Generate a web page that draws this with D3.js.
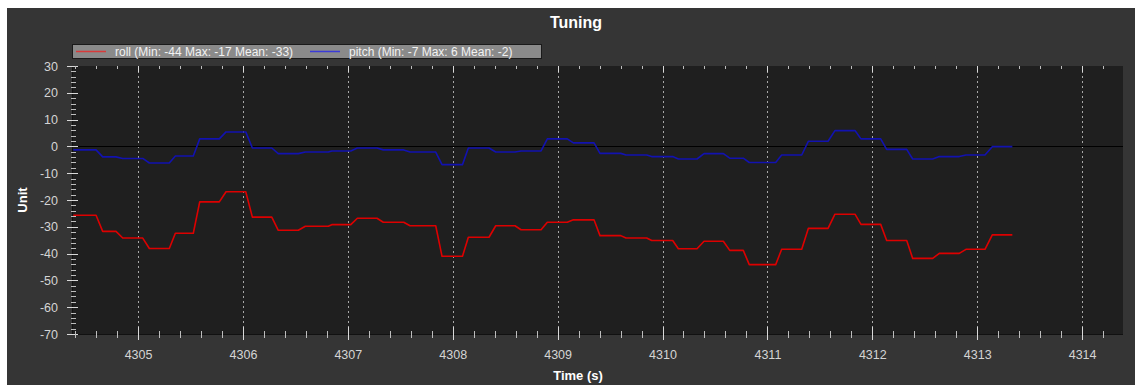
<!DOCTYPE html>
<html><head><meta charset="utf-8">
<script src="https://cdn.jsdelivr.net/npm/d3@7"></script>
<style>
body{margin:0;background:#fff;}
text{font-family:"Liberation Sans",Arial,sans-serif;}
</style>
</head><body>
<svg id="c" width="1135" height="385"></svg>
<script>
// ---- data ----
// each level is held from holdStart to holdEnd, then ramps to the next level
const holdStart = [4304.383,4304.663,4304.854,4305.108,4305.356,4305.588,4305.839,4306.090,4306.337,4306.595,
  4306.847,4307.091,4307.338,4307.593,4307.898,4308.149,4308.410,4308.651,4308.902,4309.150,
  4309.404,4309.652,4309.897,4310.151,4310.396,4310.641,4310.827,4311.136,4311.390,4311.644,
  4311.892,4312.137,4312.385,4312.639,4312.893,4313.144];
const holdEnd = [4304.600,4304.790,4305.045,4305.298,4305.527,4305.775,4306.027,4306.275,4306.528,4306.814,
  4307.028,4307.278,4307.533,4307.838,4308.093,4308.346,4308.594,4308.842,4309.092,4309.347,
  4309.602,4309.849,4310.097,4310.329,4310.580,4310.770,4311.079,4311.327,4311.578,4311.835,
  4312.080,4312.328,4312.576,4312.829,4313.074,4313.335];
const roll = [-25.7,-31.7,-34.2,-38.1,-32.4,-20.7,-16.9,-26.4,-31.3,-29.8,
  -29.2,-26.8,-28.3,-29.6,-41.0,-33.9,-29.6,-31.1,-28.3,-27.4,
  -33.3,-34.2,-35.1,-38.2,-35.4,-38.8,-44.1,-38.4,-30.6,-25.3,
  -29.1,-35.1,-41.8,-39.9,-38.4,-33.0];
const pitch = [-1.3,-3.9,-4.5,-6.2,-3.6,2.8,5.4,-0.6,-2.7,-2.1,
  -1.7,-0.6,-1.3,-2.1,-6.8,-0.6,-2.1,-1.7,2.8,1.3,
  -2.6,-3.2,-3.8,-4.7,-2.7,-4.4,-6.0,-3.2,1.9,5.9,
  2.8,-1.1,-4.7,-3.8,-3.2,-0.1];
const xTicks = [4305,4306,4307,4308,4309,4310,4311,4312,4313,4314];
const yTicks = [30,20,10,0,-10,-20,-30,-40,-50,-60,-70];
const seriesNames = ["roll","pitch"];
const legendLabels = ["roll (Min: -44 Max: -17 Mean: -33)","pitch (Min: -7 Max: 6 Mean: -2)"];
const seriesColors = ["#dd0000","#1212b0"];
const legendColors = ["#d83a3a","#3a3ad8"];
const titleText = "Tuning";
const xTitle = "Time (s)";
const yTitle = "Unit";

// ---- layout ----
const svg = d3.select("#c");
const L = 73, R = 1123, T = 66, B = 334;
const x = d3.scaleLinear().domain([4304.38, 4314.39]).range([L, R]);
const y = d3.scaleLinear().domain([-70, 30]).range([B, T]);
const fmt = d => String(d);

svg.append("rect").attr("x",0).attr("y",0).attr("width",1135).attr("height",385).attr("fill","#ffffff");
svg.append("rect").attr("x",7).attr("y",8).attr("width",1128).attr("height",377).attr("fill","#353535");
svg.append("rect").attr("x",L).attr("y",T).attr("width",R-L).attr("height",B-T).attr("fill","#1f1f1f");

svg.append("defs").append("clipPath").attr("id","clip")
  .append("rect").attr("x",L).attr("y",T).attr("width",R-L).attr("height",B-T);

// title
svg.append("text").attr("x",576).attr("y",28).attr("text-anchor","middle")
  .attr("font-size",16).attr("font-weight","bold").attr("fill","#ffffff").text(titleText);

// gridlines (vertical dotted at major x ticks)
svg.append("g").selectAll("line").data(xTicks).join("line")
  .attr("x1",d=>Math.round(x(d))+0.5).attr("x2",d=>Math.round(x(d))+0.5)
  .attr("y1",T).attr("y2",B)
  .attr("stroke","#a8a8a8").attr("stroke-width",1).attr("stroke-dasharray","2,3");

// zero line
svg.append("line").attr("x1",L).attr("x2",R).attr("y1",Math.round(y(0))+0.5).attr("y2",Math.round(y(0))+0.5)
  .attr("stroke","#000").attr("stroke-width",1);

// series
function pts(vals){
  const out=[];
  vals.forEach((v,i)=>{ out.push([holdStart[i],v]); out.push([holdEnd[i],v]); });
  return out;
}
const line = d3.line().x(d=>x(d[0])).y(d=>y(d[1]));
const gLines = svg.append("g").attr("clip-path","url(#clip)");
[roll,pitch].forEach((vals,k)=>{
  gLines.append("path").datum(pts(vals)).attr("d",line)
    .attr("fill","none").attr("stroke",seriesColors[k]).attr("stroke-width",1.6)
    .attr("stroke-linejoin","round");
});

// axis lines
svg.append("line").attr("x1",L).attr("x2",R).attr("y1",B+0.5).attr("y2",B+0.5).attr("stroke","#111").attr("stroke-width",1);
svg.append("line").attr("x1",L-0.5).attr("x2",L-0.5).attr("y1",T).attr("y2",B).attr("stroke","#111").attr("stroke-width",1);

// y axis labels via d3 axis
const yAxis = svg.append("g").attr("transform",`translate(${L},0)`)
  .call(d3.axisLeft(y).tickValues(yTicks).tickSize(0).tickPadding(15).tickFormat(fmt));
yAxis.select(".domain").remove();
yAxis.selectAll("text").attr("font-size",12.5).attr("fill","#d4d4d4").attr("font-family","Liberation Sans, Arial, sans-serif");

// y ticks major / minor
const yMinor = d3.range(-70,31,2).filter(v=>v%10!==0);
svg.append("g").selectAll("line").data(yMinor).join("line")
  .attr("x1",L-2).attr("x2",L+3).attr("y1",d=>Math.round(y(d))+0.5).attr("y2",d=>Math.round(y(d))+0.5)
  .attr("stroke","#bdbdbd");
svg.append("g").selectAll("line").data(yTicks).join("line")
  .attr("x1",L-6).attr("x2",L+5).attr("y1",d=>Math.round(y(d))+0.5).attr("y2",d=>Math.round(y(d))+0.5)
  .attr("stroke","#d8d8d8");

// x axis labels
const xAxis = svg.append("g").attr("transform",`translate(0,${B})`)
  .call(d3.axisBottom(x).tickValues(xTicks).tickSize(0).tickPadding(16).tickFormat(fmt));
xAxis.select(".domain").remove();
xAxis.selectAll("text").attr("font-size",12.5).attr("fill","#d4d4d4").attr("font-family","Liberation Sans, Arial, sans-serif");

// x ticks major / minor (bottom and top)
const xMinor = d3.range(4304.4,4314.4,0.2).filter(v=>Math.abs(v-Math.round(v))>0.05);
svg.append("g").selectAll("line").data(xMinor).join("line")
  .attr("x1",d=>Math.round(x(d))+0.5).attr("x2",d=>Math.round(x(d))+0.5).attr("y1",B-3).attr("y2",B+4)
  .attr("stroke","#bdbdbd");
svg.append("g").selectAll("line").data(xTicks).join("line")
  .attr("x1",d=>Math.round(x(d))+0.5).attr("x2",d=>Math.round(x(d))+0.5).attr("y1",B-7).attr("y2",B+6)
  .attr("stroke","#d8d8d8");
svg.append("g").selectAll("line").data(xMinor).join("line")
  .attr("x1",d=>Math.round(x(d))+0.5).attr("x2",d=>Math.round(x(d))+0.5).attr("y1",T).attr("y2",T+3)
  .attr("stroke","#bdbdbd");
svg.append("g").selectAll("line").data(xTicks).join("line")
  .attr("x1",d=>Math.round(x(d))+0.5).attr("x2",d=>Math.round(x(d))+0.5).attr("y1",T).attr("y2",T+6)
  .attr("stroke","#d8d8d8");

// axis titles
svg.append("text").attr("x",578).attr("y",380).attr("text-anchor","middle")
  .attr("font-size",13).attr("font-weight","bold").attr("fill","#ffffff").text(xTitle);
svg.append("text").attr("transform",`translate(27,${(T+B)/2}) rotate(-90)`).attr("text-anchor","middle")
  .attr("font-size",13).attr("font-weight","bold").attr("fill","#ffffff").text(yTitle);

// legend
const lg = svg.append("g");
lg.append("rect").attr("x",72.5).attr("y",44.5).attr("width",469).attr("height",14)
  .attr("fill","#8a8a8a").attr("stroke","#1a1a1a");
const legX = [76, 310];
seriesNames.forEach((n,k)=>{
  lg.append("line").attr("x1",legX[k]).attr("x2",legX[k]+30).attr("y1",51.5).attr("y2",51.5)
    .attr("stroke",legendColors[k]).attr("stroke-width",1.5);
  lg.append("text").attr("x",legX[k]+39).attr("y",55.5).attr("font-size",12).attr("fill","#f2f2f2")
    .text(legendLabels[k]);
});
</script>
</body></html>
